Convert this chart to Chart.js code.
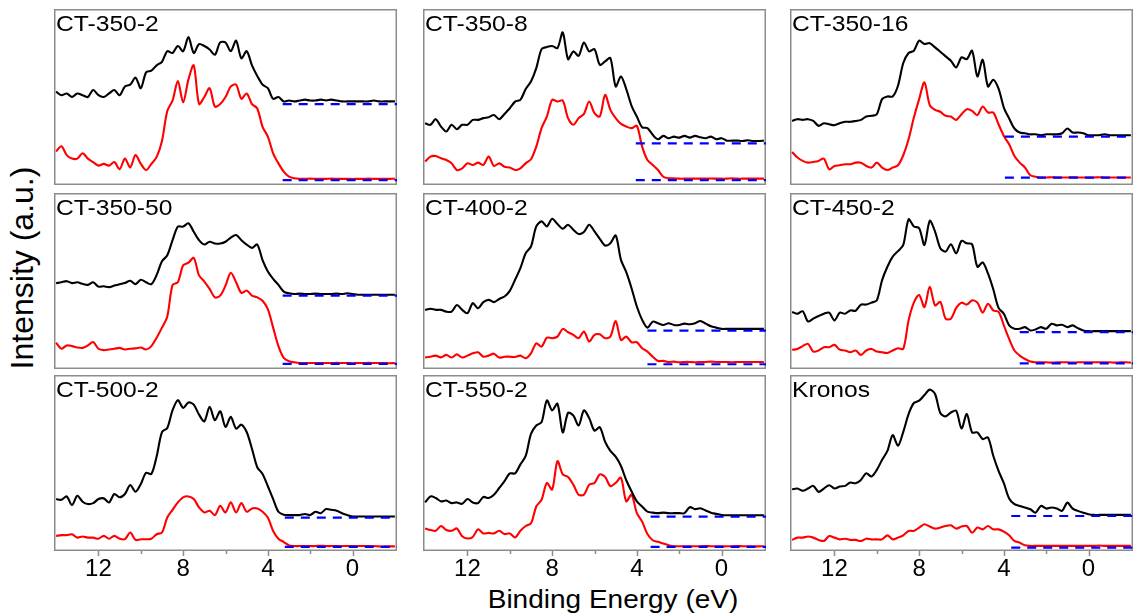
<!DOCTYPE html>
<html>
<head>
<meta charset="utf-8">
<script src="https://cdn.jsdelivr.net/npm/chart.js@4.4.1/dist/chart.umd.min.js"></script>
<style>
  html, body { margin: 0; padding: 0; background: #fff; }
  #fig { position: relative; width: 1133px; height: 616px; overflow: hidden; font-family: 'Liberation Sans', Arial, sans-serif; }
  #fig canvas { position: absolute; }
  .axis-title { position: absolute; color: #000; white-space: nowrap; line-height: 1; }
  #xTitle { left: 613px; top: 599px; font-size: 25px; transform: translate(-50%, -50%) scaleX(1.12); }
  #yTitle { left: 22px; top: 268px; font-size: 32px; transform: translate(-50%, -50%) rotate(-90deg); }
</style>
</head>
<body>
<div id="fig">
  <div class="axis-title" id="xTitle">Binding Energy (eV)</div>
  <div class="axis-title" id="yTitle">Intensity (a.u.)</div>
</div>
<script>
// binding energy grid (eV), shared by every spectrum
const energy = [
  14, 13.75, 13.5, 13.25, 13, 12.75, 12.5, 12.25, 12, 11.75, 11.5, 11.25, 11,
  10.75, 10.5, 10.25, 10, 9.75, 9.5, 9.25, 9, 8.75, 8.5, 8.25, 8, 7.75,
  7.5, 7.25, 7, 6.75, 6.5, 6.25, 6, 5.75, 5.5, 5.25, 5, 4.75, 4.5,
  4.25, 4, 3.75, 3.5, 3.25, 3, 2.75, 2.5, 2.25, 2, 1.75, 1.5, 1.25,
  1, 0.75, 0.5, 0.25, 0, -0.25, -0.5, -0.75, -1, -1.25, -1.5, -1.75, -2
];

const samples = ['CT-350-2', 'CT-350-8', 'CT-350-16', 'CT-350-50', 'CT-400-2', 'CT-450-2', 'CT-500-2', 'CT-550-2', 'Kronos'];

// intensities, offset per panel (0 = frame bottom, 100 = frame top)
const black350_2 = [
  53, 51, 52, 50, 52, 51, 50, 54, 51, 50, 52, 54, 51,
  56, 57, 61, 55, 64, 65, 68, 70, 76, 75, 79, 76, 84,
  75, 80, 79, 77, 74, 81, 81, 76, 82, 72, 76, 68, 62,
  57, 55, 49, 50, 47.5, 48, 47.5, 48, 48.5, 48, 48, 48.5, 48,
  48.5, 48, 47.5, 47.5, 47.5, 47.5, 47.5, 47.5, 48, 47.5, 47.5, 47.5, 47.5
];
const red350_2 = [
  19, 22, 17, 15, 15, 18, 15, 13, 11, 12, 11, 13, 9,
  15, 10, 17, 12, 8.5, 12, 16, 25, 42, 48, 59, 47, 60,
  68, 46, 50, 55, 44.5, 46, 50, 56, 57, 49, 52, 46, 43.5,
  33, 27.5, 18, 12.3, 7.6, 4.7, 3.8, 3.5, 3.5, 3.6, 3.5, 3.5, 3.5,
  3.6, 3.5, 3.5, 3.5, 3.4, 3.5, 3.5, 3.6, 3.5, 3.5, 3.5, 3.5, 3.6
];
const black350_8 = [
  35.1, 34.2, 37.4, 33.2, 30.4, 34.2, 31.7, 34.2, 34.2, 37, 37, 38, 38.5,
  39.8, 37.4, 40.4, 43.6, 47.4, 48.4, 54.5, 58.8, 66.4, 77.2, 78.4, 79, 77.8,
  86.7, 71.5, 75.9, 73.4, 81, 75.9, 77.2, 68.3, 70.2, 72.1, 56, 61.7, 54.5,
  45, 38.9, 32.8, 32.3, 28.5, 26, 27.9, 26.6, 27.5, 26.9, 27.9, 26.9, 27.9,
  27.1, 26.6, 27.5, 26, 26.6, 25.2, 25.2, 25.2, 25, 25.4, 25, 25, 25.2
];
const red350_8 = [
  13.3, 16.1, 16.5, 15.2, 14.2, 12.3, 8.5, 9.5, 12.3, 11.4, 12.7, 11.4, 16.1,
  10.8, 12.3, 10.4, 9.9, 8.5, 9.5, 12.3, 14.6, 21.8, 32.3, 38.9, 48.4, 47.4,
  48, 38, 34.2, 38, 40.4, 47.4, 40.8, 38.9, 51.2, 42.7, 38, 34.7, 33.2,
  32.3, 33.6, 21.8, 14.2, 11.4, 8.5, 4.7, 3.8, 3.8, 3.6, 3.6, 3.7, 3.6,
  3.6, 3.6, 3.7, 3.6, 3.6, 3.6, 3.8, 3.6, 3.6, 3.6, 3.6, 3.6, 3.6
];
const black350_16 = [
  36.4, 37.4, 37, 37.4, 36.4, 33.6, 35.1, 34.5, 34, 35.1, 35.9, 35.9, 36.4,
  37, 38.9, 39.3, 40.2, 48.8, 50.3, 50.3, 56.4, 69.3, 75, 76.3, 82, 80.1,
  80.6, 78.2, 75.7, 73.1, 70.6, 66.8, 72.5, 71.5, 76.3, 61.7, 71.2, 56, 59.8,
  54.8, 44, 37.8, 32.1, 29.8, 29.4, 28.8, 28.8, 28.3, 28.8, 28.8, 28.8, 29.4,
  32.1, 29.8, 29.8, 29.4, 28.3, 28.3, 28.3, 28.8, 28.3, 28.3, 28.3, 28.3, 28.3
];
const red350_16 = [
  18.8, 15.6, 13.7, 12.7, 13.1, 13.7, 15, 8.9, 10.8, 11.2, 11.8, 11.8, 12.7,
  12.7, 10.8, 9.9, 12.7, 9.9, 8.5, 9.9, 11.2, 16.9, 26, 38.3, 48.8, 58.3,
  45.4, 42.7, 41.6, 39.3, 38.9, 37, 40.2, 43.1, 42.1, 39.7, 44.6, 41.2, 41.2,
  34.5, 27.9, 23.1, 16.5, 12.7, 9.9, 5.5, 4.7, 4.3, 4.3, 4.4, 4.3, 4.3,
  4.3, 4.4, 4.3, 4.3, 4.3, 4.3, 4.4, 4.3, 4.3, 4.3, 4.3, 4.3, 4.3
];
const black350_50 = [
  48.8, 49.3, 49.9, 48.8, 49.3, 48.4, 47.8, 49.3, 46.8, 47, 46.5, 47.4, 48.2,
  48.9, 50.1, 48.2, 50.7, 49.3, 48.2, 53.5, 61.2, 64.6, 73.2, 80.9, 80.9, 82.8,
  78, 73.2, 70.7, 72.3, 71.3, 71.3, 72.3, 74.6, 76.1, 73.2, 70.7, 68.8, 70.7,
  61.8, 55.4, 51.2, 47.8, 44, 43, 42.6, 42.8, 42.6, 42.6, 42.8, 42.6, 42.6,
  42.6, 42.8, 42.6, 43, 42.6, 42.2, 42.2, 42.2, 42.2, 42.2, 42.2, 42.2, 42.2
];
const red350_50 = [
  14.9, 11.5, 13.4, 13, 12.2, 12, 13.4, 15.3, 11.5, 10.7, 11.1, 11.5, 12,
  11.1, 11.5, 11.7, 12.2, 11.1, 13, 17.8, 23.5, 29.8, 47.8, 49.3, 58.9, 60.4,
  63.1, 53.2, 49.7, 45.5, 40.7, 41.7, 47.4, 54.7, 49.3, 43.2, 44.6, 41.7, 40.7,
  38.8, 34, 23.5, 13, 6.3, 4.4, 3.8, 3.4, 3.4, 3.4, 3.4, 3.4, 3.4,
  3.4, 3.5, 3.4, 3.4, 3.3, 3.4, 3.4, 3.5, 3.4, 3.4, 3.4, 3.3, 3.4
];
const black400_2 = [
  33.6, 34.2, 33.6, 33.6, 32.6, 32.6, 36.4, 33.6, 31.7, 37.4, 34.5, 38, 39.3,
  38, 39.8, 41.2, 44.4, 50.7, 57.3, 65.8, 69.6, 81, 83.9, 81, 85.4, 82.4,
  79.7, 82, 79.1, 76.7, 77.8, 82, 78.2, 74, 70.2, 71.5, 75.9, 62, 55,
  45.9, 35.5, 27.9, 23.5, 26.9, 26, 25, 26, 25, 25, 25.8, 25.4, 26,
  27.3, 25.8, 24.3, 23.5, 22.8, 22.8, 22.8, 22.8, 22.8, 22.8, 22.8, 22.8, 22.8
];
const red400_2 = [
  6.6, 7, 7.6, 6.6, 8, 6.5, 8.3, 6.5, 7.6, 8.9, 9.5, 7, 7.6,
  8.7, 6.5, 7, 7, 6.8, 7.6, 6.1, 8.9, 14.6, 12.7, 17.8, 17.5, 18.4,
  22.8, 20.9, 19.4, 17.5, 21.3, 15.6, 19.4, 19.7, 17.5, 18.4, 27.3, 16.5, 18.4,
  15.2, 15.2, 11.8, 9.9, 7, 4.6, 4.6, 4, 4.2, 3.8, 4, 4, 3.8,
  4, 4, 4.2, 4, 4, 4, 3.8, 4, 4, 4, 4, 4, 4
];
const black450_2 = [
  32.4, 31.4, 32.8, 27, 28.6, 30.1, 31.4, 32, 27.6, 32, 31.4, 33.3, 33.1,
  36.6, 36.6, 37.7, 39, 50.5, 58.1, 63.8, 67, 70.5, 85, 81, 80, 70.5,
  84.2, 78.1, 68.6, 66.7, 70.9, 65.7, 72.8, 71.4, 70.9, 58.1, 60.6, 54.3, 45.3,
  34.7, 31.4, 24.8, 22.9, 22.9, 23.8, 21.9, 22.5, 23.8, 22.9, 25.7, 24.8, 25.1,
  23.8, 24.8, 23.2, 21.9, 21.5, 21.5, 21.5, 21.5, 21.5, 21.5, 21.5, 21.5, 21.5
];
const red450_2 = [
  10.9, 11.4, 13, 14.3, 9.9, 10.5, 12.4, 12.4, 13.7, 11, 10.5, 9.5, 10.5,
  8, 10.5, 11.4, 9.9, 9.5, 9.1, 10.5, 11.8, 11.4, 27.6, 37.7, 42, 35.2,
  46.7, 36.2, 38.1, 28.6, 28.6, 34.7, 37.7, 36.6, 39, 37.7, 32, 37.1, 33.3,
  32.4, 24.8, 17.1, 10.5, 7.6, 5.7, 4.2, 3.8, 3.8, 3.8, 3.6, 3.8, 3.8,
  3.8, 3.6, 3.8, 3.8, 3.8, 3.8, 3.8, 3.8, 3.8, 3.6, 3.8, 3.8, 3.6
];
const black500_2 = [
  29.5, 29.1, 31, 26.1, 31.4, 28, 26.7, 27.2, 29.5, 29.9, 27.6, 32.4, 30.5,
  32.4, 37.5, 33.7, 38.1, 44.4, 43.8, 53.9, 67.6, 69.9, 80, 85.7, 81.3, 84.4,
  83.2, 77.5, 73.7, 81.9, 74.3, 79.4, 70.5, 76.2, 69.5, 71.8, 67.6, 58.1, 47.6,
  43.8, 36.8, 29.5, 22.3, 20.6, 20.4, 20.4, 20.4, 21, 20.4, 22.3, 21.5, 23.8,
  23.4, 22.9, 21.5, 20.4, 19.6, 19.6, 19.6, 19.6, 19.6, 19.6, 19.6, 19.6, 19.6
];
const red500_2 = [
  8.6, 9, 9, 9.5, 7.6, 8.2, 7.6, 7.6, 7, 8.6, 7, 8.6, 7,
  6.7, 10.5, 6.3, 6.7, 6.7, 7, 9.5, 10.5, 19, 23.4, 27.6, 30.5, 31,
  29.5, 24.8, 21.9, 22.9, 20.4, 25.7, 21.9, 27.6, 21.9, 27.2, 22.3, 24.2, 24.2,
  22.3, 19, 11.4, 7, 5.1, 3.2, 2.8, 2.8, 2.8, 2.8, 2.8, 3, 2.8,
  2.8, 2.8, 2.8, 2.8, 2.8, 2.8, 2.8, 2.8, 2.8, 2.6, 2.6, 2.6, 2.6
];
const black550_2 = [
  27.6, 31, 30.1, 28.2, 28.7, 27.2, 27.6, 26.8, 29.5, 27.6, 27.2, 30.7, 30.1,
  32, 35.8, 39.7, 44.1, 44.1, 49.2, 54, 66.5, 71.3, 73.2, 85.6, 79.9, 83.7,
  67.4, 78.5, 77, 71.3, 79.9, 75.5, 68.4, 70.3, 62.1, 56.9, 53.6, 48.3, 40.2,
  33.9, 28.2, 25.3, 22.4, 21.8, 21.5, 21.8, 21.5, 21.5, 21.5, 21.5, 24.9, 23.8,
  24.3, 23, 21.8, 21.1, 20.5, 20.3, 20.3, 20.3, 20.3, 20.3, 20.3, 20.3, 20.3
];
const red550_2 = [
  12.8, 11.9, 11.5, 14.2, 11.9, 11.5, 12.8, 8.4, 7.1, 8, 12.3, 10, 10.3,
  10, 11.5, 9.6, 10, 7.7, 11.5, 14.2, 15.7, 25.3, 29.1, 38.7, 34.9, 51.1,
  43.5, 42.1, 37.7, 32, 32, 37.7, 38.7, 43.5, 42.1, 36.8, 38.7, 41.6, 28.2,
  32, 21.5, 16.7, 9.6, 6.1, 5.2, 4.2, 3.3, 2.7, 2.7, 2.7, 2.7, 2.7,
  2.7, 2.8, 2.7, 2.7, 2.6, 2.7, 2.7, 2.8, 2.7, 2.7, 2.7, 2.6, 2.7
];
const blackKronos = [
  35.1, 35.5, 34.2, 35.5, 37, 33.6, 35.5, 37.4, 35.5, 36.6, 37, 38.9, 38.5,
  40.4, 44.2, 42.3, 46.1, 51.8, 56.9, 65.8, 59.8, 67.7, 77.8, 84.1, 85.4, 88.6,
  91.7, 89.2, 78.4, 76.5, 78.7, 79.7, 69.6, 77.8, 67.4, 67.4, 63.6, 64.5, 54.1,
  45.5, 38.5, 29.8, 26.6, 25.6, 24.7, 23.7, 21.8, 25.6, 24.1, 24.7, 24.1, 22.8,
  27.5, 24.1, 22.8, 21.8, 20.9, 20.5, 20.5, 20.5, 20.5, 20.5, 20.5, 20.5, 20.5
];
const redKronos = [
  6.3, 7.6, 7.6, 8.2, 7.6, 6.3, 5.7, 8.5, 7.6, 6.6, 7, 6.3, 6.3,
  5.7, 7, 6.6, 6.6, 6.6, 8.9, 6.6, 7.6, 8.9, 11.4, 11.4, 13.3, 15.2,
  13.9, 12.7, 13.3, 14.2, 14.6, 12.7, 13.9, 14.2, 10.4, 13.3, 12.3, 14.2, 12.3,
  12.3, 11, 8.9, 5.7, 4.7, 3.2, 2.9, 2.9, 2.9, 2.9, 2.9, 2.9, 2.9,
  2.9, 2.9, 2.9, 2.9, 2.9, 2.9, 3.1, 2.9, 2.9, 2.9, 2.9, 2.9, 2.9
];

const blackSeries = [black350_2, black350_8, black350_16, black350_50, black400_2, black450_2, black500_2, black550_2, blackKronos];
const redSeries = [red350_2, red350_8, red350_16, red350_50, red400_2, red450_2, red500_2, red550_2, redKronos];

// dashed baselines: onset energy and level under each spectrum
const baseStart = [3.3, 4.05, 3.95, 3.3, 3.5, 3.25, 3.2, 3.35, 3.65];
const baseUpper = [46, 23.7, 27.5, 41.7, 21.8, 21, 19, 19.5, 19.9];
const baseLower = [2.8, 2.8, 4.2, 2.9, 2.7, 3.2, 2.3, 2.3, 1.9];

const majorTicks = [12, 8, 4, 0];
const minorTicks = [10, 6, 2];
const eMin = -2.1, eMax = 14.1;

// panel grid
const colLeft = [54, 423, 790];
const rowTop = [9, 193, 375];
const panelW = 343, panelH = 176, axisH = 40;
const frameColor = '#8c8c8c';
const FONT = '"Liberation Sans", Arial, sans-serif';

Chart.defaults.font.family = FONT;

// frame, sample name and tick marks for each panel
const panelDecor = {
  id: 'panelDecor',
  beforeDatasetsDraw(chart) {
    const { ctx, chartArea: { left, top, right, bottom } } = chart;
    ctx.save();
    ctx.strokeStyle = frameColor;
    ctx.lineWidth = 1.5;
    ctx.strokeRect(left + 0.75, top + 0.75, right - left - 1.5, bottom - top - 1.5);
    ctx.restore();
  },
  afterDraw(chart, args, opts) {
    const { ctx, chartArea: { left, top, bottom } } = chart;
    ctx.save();
    ctx.fillStyle = '#000';
    ctx.font = '22px ' + FONT;
    ctx.textBaseline = 'top';
    ctx.translate(left + 2, top + 5);
    ctx.scale(1.12, 1);
    ctx.fillText(opts.label, 0, 0);
    ctx.restore();

    if (opts.showTicks) {
      const xs = chart.scales.x;
      ctx.save();
      ctx.strokeStyle = frameColor;
      ctx.lineWidth = 1.5;
      ctx.beginPath();
      majorTicks.forEach(v => {
        const px = Math.round(xs.getPixelForValue(v)) + 0.5;
        ctx.moveTo(px, bottom);
        ctx.lineTo(px, bottom + 5);
      });
      minorTicks.forEach(v => {
        const px = Math.round(xs.getPixelForValue(v)) + 0.5;
        ctx.moveTo(px, bottom);
        ctx.lineTo(px, bottom + 3);
      });
      ctx.stroke();
      ctx.restore();
    }
  }
};

const fig = document.getElementById('fig');

samples.forEach((name, i) => {
  const row = Math.floor(i / 3), col = i % 3;
  const bottomRow = row === 2;
  const canvas = document.createElement('canvas');
  canvas.width = panelW;
  canvas.height = panelH + (bottomRow ? axisH : 0);
  canvas.style.left = colLeft[col] + 'px';
  canvas.style.top = rowTop[row] + 'px';
  fig.appendChild(canvas);

  const black = energy.map((e, k) => ({ x: e, y: blackSeries[i][k] }));
  const red = energy.map((e, k) => ({ x: e, y: redSeries[i][k] }));

  new Chart(canvas, {
    type: 'line',
    data: {
      datasets: [
        { data: [{ x: baseStart[i], y: baseUpper[i] }, { x: eMin, y: baseUpper[i] }],
          borderColor: '#0000ff', borderWidth: 2.2, borderDash: [9, 7], tension: 0 },
        { data: [{ x: baseStart[i], y: baseLower[i] }, { x: eMin, y: baseLower[i] }],
          borderColor: '#0000ff', borderWidth: 2.2, borderDash: [9, 7], tension: 0 },
        { data: black, borderColor: '#000000', borderWidth: 2.1 },
        { data: red, borderColor: '#ff0000', borderWidth: 2.1 }
      ]
    },
    options: {
      responsive: false,
      animation: false,
      events: [],
      layout: { padding: 0 },
      elements: { point: { radius: 0 }, line: { tension: 0.3, borderJoinStyle: 'round' } },
      plugins: {
        legend: { display: false },
        tooltip: { enabled: false },
        panelDecor: { label: name, showTicks: bottomRow }
      },
      scales: {
        x: {
          type: 'linear',
          reverse: true,
          min: eMin,
          max: eMax,
          display: bottomRow,
          afterBuildTicks: s => { s.ticks = majorTicks.map(v => ({ value: v })); },
          afterFit: s => { s.height = bottomRow ? axisH : 0; },
          grid: { display: false, drawTicks: false },
          border: { display: false },
          ticks: { color: '#000', font: { size: 24 }, padding: 4, maxRotation: 0 }
        },
        y: { display: false, min: 0, max: 100 }
      }
    },
    plugins: [panelDecor]
  });
});
</script>
</body>
</html>
